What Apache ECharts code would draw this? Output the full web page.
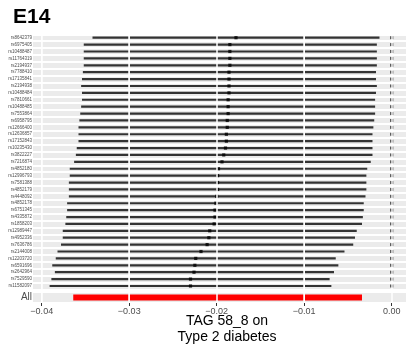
<!DOCTYPE html>
<html><head><meta charset="utf-8">
<script src="https://cdn.jsdelivr.net/npm/echarts@6/dist/echarts.min.js"></script>
<style>html,body{margin:0;padding:0;background:#fff}#c{width:406px;height:360px}</style>
</head><body><div id="c"></div>
<script>
// SNP-level estimates with 95% intervals
const snps = ['rs8642379','rs6975405','rs10488487','rs11764319','rs2194937','rs7788410','rs17135841','rs2194938','rs10488484','rs7810661','rs10488485','rs7553864','rs6958795','rs12666400','rs12636857','rs17152843','rs10235430','rs3822227','rs7216874','rs4852180','rs12996793','rs7581388','rs4852179','rs4448092','rs4852178','rs6751345','rs4335872','rs1858203','rs12989447','rs4952336','rs7636786','rs2144008','rs12203720','rs6591696','rs2642964','rs7529590','rs11582097'];
const estimate = [-0.0178,-0.0185,-0.0185,-0.0185,-0.0185,-0.0186,-0.0186,-0.0186,-0.0186,-0.0187,-0.0187,-0.0187,-0.0188,-0.0188,-0.0189,-0.0189,-0.0190,-0.0192,-0.0194,-0.0198,-0.0199,-0.0199,-0.0199,-0.0200,-0.0201,-0.0202,-0.0202,-0.0203,-0.0208,-0.0209,-0.0211,-0.0218,-0.0224,-0.0225,-0.0226,-0.0230,-0.0230];
const lower = [-0.0342,-0.0352,-0.0352,-0.0352,-0.0352,-0.0353,-0.0354,-0.0355,-0.0354,-0.0354,-0.0355,-0.0356,-0.0357,-0.0358,-0.0358,-0.0358,-0.0360,-0.0361,-0.0363,-0.0368,-0.0368,-0.0369,-0.0369,-0.0369,-0.0371,-0.0371,-0.0372,-0.0373,-0.0376,-0.0376,-0.0378,-0.0382,-0.0384,-0.0388,-0.0385,-0.0389,-0.0391];
const upper = [-0.0014,-0.0017,-0.0017,-0.0017,-0.0017,-0.0018,-0.0018,-0.0017,-0.0018,-0.0019,-0.0019,-0.0019,-0.0020,-0.0021,-0.0022,-0.0022,-0.0022,-0.0022,-0.0024,-0.0028,-0.0029,-0.0029,-0.0029,-0.0030,-0.0032,-0.0032,-0.0033,-0.0034,-0.0040,-0.0042,-0.0044,-0.0054,-0.0064,-0.0061,-0.0066,-0.0071,-0.0069];
// pooled estimate over all SNPs
const pooledLabel = ['All'];
const pooledLower = [-0.0364];
const pooledUpper = [-0.0034];
// axis
const xTicks = [-0.04, -0.03, -0.02, -0.01, 0];
const xGrid = [-0.04, -0.035, -0.03, -0.025, -0.02, -0.015, -0.01, -0.005, 0];
const xMin = -0.041, xMax = 0.00163;
const nullLine = 0;

const font = 'Liberation Sans, Arial, Helvetica, sans-serif';
const chart = echarts.init(document.getElementById('c'));

function fmt(v) { return (v < 0 ? '\u2212' : '') + Math.abs(v).toFixed(2); }

const gridLines = xGrid.map(v => ({
  xAxis: v,
  lineStyle: { color: '#ffffff', width: xTicks.some(t => Math.abs(t - v) < 1e-9) ? 1.5 : 0.8, type: 'solid' }
}));

const baseX = (gi, showLabels) => ({
  type: 'value', gridIndex: gi, min: xMin, max: xMax,
  splitLine: { show: false },
  axisLine: { show: false },
  axisTick: { show: showLabels, customValues: xTicks, length: 3, lineStyle: { color: '#333', width: 1 } },
  axisLabel: { show: showLabels, customValues: xTicks, formatter: fmt, color: '#4d4d4d', fontSize: 9, fontFamily: font, margin: 4 }
});

const baseY = (gi, cats, labelSize) => ({
  type: 'category', gridIndex: gi, data: cats, inverse: true,
  axisLine: { show: false }, axisTick: { show: false },
  splitLine: { show: true, lineStyle: { color: '#ffffff', width: 2 } },
  axisLabel: { color: '#4d4d4d', fontSize: labelSize, fontFamily: font, margin: 1, interval: 0 }
});

const segment = (color, width) => function (params, api) {
  const i = api.value(0);
  const a = api.coord([api.value(1), i]);
  const b = api.coord([api.value(2), i]);
  if (width) {
    return { type: 'line', shape: { x1: a[0], y1: a[1], x2: b[0], y2: b[1] }, style: { stroke: color, lineWidth: width } };
  }
  const h = api.size([0, 1])[1] * 0.55;
  return { type: 'rect', shape: { x: a[0], y: a[1] - h / 2, width: b[0] - a[0], height: h }, style: { fill: color } };
};

chart.setOption({
  animation: false,
  grid: [
    { left: 33, right: 0, top: 34.25, height: 255.2, show: true, backgroundColor: '#ebebeb', borderWidth: 0 },
    { left: 33, right: 0, top: 292, height: 11, show: true, backgroundColor: '#ebebeb', borderWidth: 0 }
  ],
  xAxis: [baseX(0, false), baseX(1, true)],
  yAxis: [baseY(0, snps, 4.5), baseY(1, pooledLabel, 10)],
  graphic: [
    { type: 'text', left: 13, top: 7, style: { text: 'E14', font: 'bold 21px ' + font, fill: '#000' } },
    { type: 'text', x: 227, y: 313, style: { text: 'TAG 58_8 on\nType 2 diabetes', font: '14px ' + font, fill: '#000', align: 'center', lineHeight: 16 } }
  ],
  series: [
    { type: 'line', xAxisIndex: 0, yAxisIndex: 0, data: [], z: 1, silent: true,
      markLine: { silent: true, symbol: 'none', label: { show: false }, data: gridLines } },
    { type: 'line', xAxisIndex: 1, yAxisIndex: 1, data: [], z: 1, silent: true,
      markLine: { silent: true, symbol: 'none', label: { show: false }, data: gridLines } },
    { type: 'custom', xAxisIndex: 0, yAxisIndex: 0, z: 3,
      renderItem: segment('#333333', 2.2),
      data: snps.map((s, i) => [i, lower[i], upper[i]]) },
    { type: 'scatter', xAxisIndex: 0, yAxisIndex: 0, z: 4, symbol: 'rect', symbolSize: 3.2,
      itemStyle: { color: '#000' }, data: snps.map((s, i) => [estimate[i], i]) },
    { type: 'scatter', xAxisIndex: 0, yAxisIndex: 0, z: 4, symbol: 'rect', symbolSize: 3,
      itemStyle: { color: '#000' }, data: snps.map((s, i) => [nullLine, i]) },
    { type: 'custom', xAxisIndex: 1, yAxisIndex: 1, z: 3,
      renderItem: segment('#ff0000', 0),
      data: pooledLabel.map((s, i) => [i, pooledLower[i], pooledUpper[i]]) }
  ]
});
</script></body></html>
